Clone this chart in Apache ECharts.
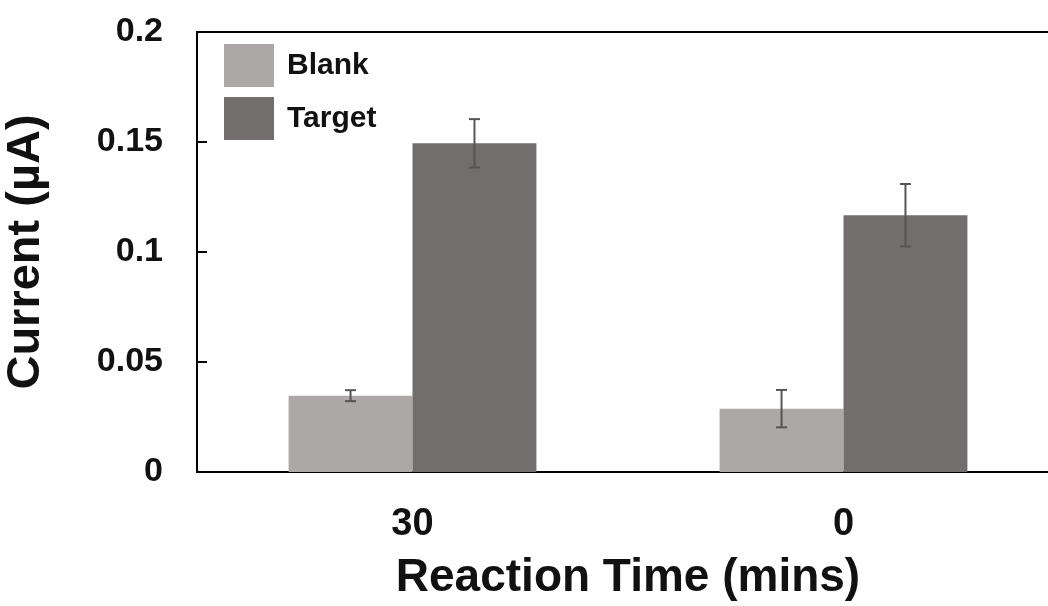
<!DOCTYPE html>
<html><head><meta charset="utf-8">
<script src="https://cdn.jsdelivr.net/npm/echarts@6/dist/echarts.min.js"></script>
<style>html,body{margin:0;padding:0;background:#fff}#c{width:1048px;height:606px}</style>
</head><body><div id="c"></div>
<script>
var categories = ['30', '0'];
var blankValues = [0.0347, 0.0288];
var blankErr = [0.0025, 0.0085];
var targetValues = [0.1494, 0.1167];
var targetErr = [0.011, 0.0142];
var yTicks = [0, 0.05, 0.1, 0.15, 0.2];

var GAP = 0.425;
var FONT = '"Liberation Sans", Arial, sans-serif';

function errItem(side) {
  return function (params, api) {
    var i = api.value(0);
    var v = api.value(1), e = api.value(2);
    var band = api.size([1, 0])[0];
    var bw = band * (1 - GAP) / 2;
    var c = api.coord([i, v]);
    var x = c[0] + side * bw / 2;
    var top = api.coord([i, v + e])[1];
    var bot = api.coord([i, v - e])[1];
    var cap = 5.5;
    var st = {stroke: '#555', lineWidth: 2};
    return {type: 'group', children: [
      {type: 'line', shape: {x1: x, y1: top, x2: x, y2: bot}, style: st},
      {type: 'line', shape: {x1: x - cap, y1: top, x2: x + cap, y2: top}, style: st},
      {type: 'line', shape: {x1: x - cap, y1: bot, x2: x + cap, y2: bot}, style: st}
    ]};
  };
}

var chart = echarts.init(document.getElementById('c'));
chart.setOption({
  animation: false,
  grid: {left: 197, top: 32, width: 862, height: 440, outerBoundsMode: 'none', containLabel: false,
    show: true, borderColor: '#000', borderWidth: 2, backgroundColor: 'transparent'},
  legend: {
    orient: 'vertical', left: 224, top: 44, padding: 0, itemWidth: 50, itemHeight: 43, itemGap: 10,
    icon: 'rect',
    textStyle: {fontFamily: FONT, fontWeight: 'bold', fontSize: 30, color: '#111', padding: [0, 0, 0, 8]},
    data: ['Blank', 'Target']
  },
  xAxis: {
    type: 'category', data: categories,
    axisLine: {lineStyle: {color: '#000', width: 2}},
    axisTick: {show: false},
    axisLabel: {fontFamily: FONT, fontWeight: 'bold', fontSize: 38, color: '#111', margin: 34},
    name: 'Reaction Time (mins)', nameLocation: 'middle', nameGap: 83,
    nameTextStyle: {fontFamily: FONT, fontWeight: 'bold', fontSize: 46, color: '#111'}
  },
  yAxis: {
    type: 'value', min: yTicks[0], max: yTicks[yTicks.length - 1], interval: 0.05,
    splitLine: {show: false},
    axisLine: {show: true, lineStyle: {color: '#000', width: 2}},
    axisTick: {show: true, inside: true, length: 10, lineStyle: {color: '#000', width: 2}},
    axisLabel: {fontFamily: FONT, fontWeight: 'bold', fontSize: 34, color: '#111', margin: 34},
    name: 'Current (µA)', nameLocation: 'middle', nameGap: 147, nameRotate: 90,
    nameTextStyle: {fontFamily: FONT, fontWeight: 'bold', fontSize: 47, color: '#111'}
  },
  series: [
    {name: 'Blank', type: 'bar', data: blankValues, barGap: '0%', barCategoryGap: (GAP * 100) + '%', itemStyle: {color: '#aba8a7'}},
    {name: 'Target', type: 'bar', data: targetValues, barGap: '0%', barCategoryGap: (GAP * 100) + '%', itemStyle: {color: '#736e6e'}},
    {type: 'custom', renderItem: errItem(-1), z: 5,
      data: categories.map(function (c, i) { return [i, blankValues[i], blankErr[i]]; })},
    {type: 'custom', renderItem: errItem(1), z: 5,
      data: categories.map(function (c, i) { return [i, targetValues[i], targetErr[i]]; })}
  ]
});
</script></body></html>
